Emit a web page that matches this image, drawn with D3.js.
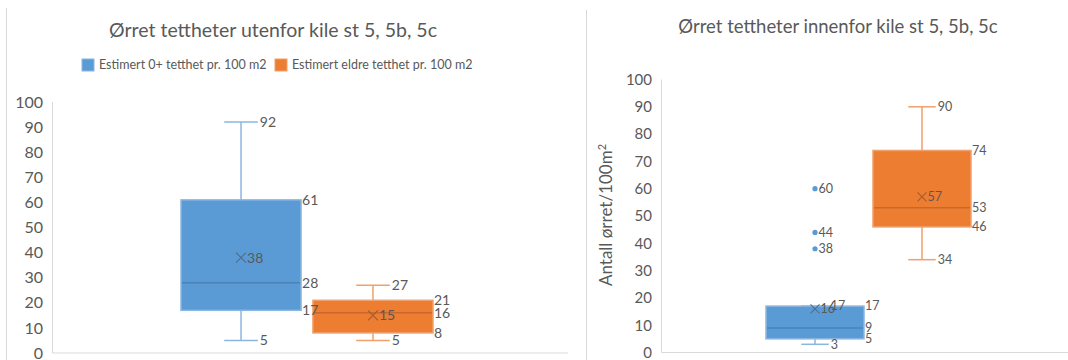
<!DOCTYPE html>
<html>
<head>
<meta charset="utf-8">
<script src="https://cdn.jsdelivr.net/npm/d3@7"></script>
<style>
  html, body { margin: 0; padding: 0; background: #fff; }
  svg { display: block; font-family: Lato, "Open Sans", sans-serif; }
</style>
</head>
<body>
<svg id="chart" width="1068" height="360"></svg>
<script>
// Series shown in both panels
const seriesNames = ["Estimert 0+ tetthet pr. 100 m2", "Estimert eldre tetthet pr. 100 m2"];
const seriesKeys = ["0+", "eldre"];
const yTicks = [0, 10, 20, 30, 40, 50, 60, 70, 80, 90, 100];

// Utenfor kile: five-number summaries and means per series
const outMin    = [5, 5];
const outQ1     = [17, 8];
const outMedian = [28, 16];
const outQ3     = [61, 21];
const outMax    = [92, 27];
const outMean   = [38, 15];
const outOutliers = [[], []];

// Innenfor kile
const inMin    = [3, 34];
const inQ1     = [5, 46];
const inMedian = [9, 53];
const inQ3     = [17, 74];
const inMax    = [17, 90];
const inMean   = [16, 57];
const inOutliers = [[38, 44, 60], []];

const fills   = ["#5b9bd5", "#ed7d31"];
const edges   = ["#8ab6e0", "#f0a06b"];
const medians = ["#4a82b8", "#c9682a"];
const marks   = ["#4d6e8f", "#a85a2a"];
const textCol = "#595959";
const gridCol = "#d9d9d9";

const svg = d3.select("#chart");

function panel(cfg) {
  const g = svg.append("g");
  const y = d3.scaleLinear().domain([0, 100]).range([cfg.y0, cfg.y1]);
  const x = d3.scaleBand().domain(seriesKeys).range(cfg.boxRange).paddingInner(cfg.pad);
  const bw = x.bandwidth();
  const capW = bw * 0.28;

  // frame edge of the chart area
  g.append("line").attr("x1", cfg.frameX).attr("x2", cfg.frameX)
    .attr("y1", cfg.frameTop).attr("y2", 360)
    .attr("stroke", gridCol).attr("stroke-width", 1);

  // axes lines
  g.append("line").attr("x1", cfg.axisX).attr("x2", cfg.axisX)
    .attr("y1", y(100)).attr("y2", y(0)).attr("stroke", gridCol);
  g.append("line").attr("x1", cfg.axisX).attr("x2", cfg.plotRight)
    .attr("y1", y(0)).attr("y2", y(0)).attr("stroke", gridCol);

  // tick labels
  const ax = g.append("g").attr("transform", `translate(${cfg.tickX},0)`)
    .call(d3.axisLeft(y).tickValues(yTicks).tickSize(0).tickPadding(0));
  ax.select(".domain").remove();
  ax.selectAll("text").attr("fill", textCol).style("font-size", cfg.tickFont + "px")
    .style("font-family", "Lato, 'Open Sans', sans-serif");

  // title
  g.append("text").attr("x", cfg.titleX).attr("y", cfg.titleY)
    .attr("text-anchor", "middle").attr("fill", textCol)
    .style("font-size", cfg.titleFont + "px").text(cfg.title);

  const marksLayer = g.append("g");
  const labelLayer = g.append("g");

  const d = cfg.data;
  seriesKeys.forEach((k, i) => {
    const left = x(k), right = x(k) + bw, cx = x(k) + bw / 2;
    const sg = marksLayer.append("g");
    // whiskers
    sg.append("line").attr("x1", cx).attr("x2", cx)
      .attr("y1", y(d.max[i])).attr("y2", y(d.q3[i]))
      .attr("stroke", edges[i]).attr("stroke-width", 1.5);
    sg.append("line").attr("x1", cx).attr("x2", cx)
      .attr("y1", y(d.q1[i])).attr("y2", y(d.min[i]))
      .attr("stroke", edges[i]).attr("stroke-width", 1.5);
    [d.max[i], d.min[i]].forEach(v => {
      sg.append("line").attr("x1", cx - capW / 2).attr("x2", cx + capW / 2)
        .attr("y1", y(v)).attr("y2", y(v))
        .attr("stroke", edges[i]).attr("stroke-width", 1.5);
    });
    // box
    sg.append("rect").attr("x", left).attr("y", y(d.q3[i]))
      .attr("width", bw).attr("height", y(d.q1[i]) - y(d.q3[i]))
      .attr("fill", fills[i]).attr("stroke", edges[i]).attr("stroke-width", 1.5);
    sg.append("line").attr("x1", left + 1).attr("x2", right - 1)
      .attr("y1", y(d.median[i])).attr("y2", y(d.median[i]))
      .attr("stroke", medians[i]).attr("stroke-width", 1.5);
    // mean marker
    const m = cfg.markSize / 2, my = y(d.mean[i]);
    sg.append("path")
      .attr("d", `M${cx - m},${my - m}L${cx + m},${my + m}M${cx - m},${my + m}L${cx + m},${my - m}`)
      .attr("stroke", marks[i]).attr("stroke-width", 1.1).attr("fill", "none");
    // outliers
    d.outliers[i].forEach(v => {
      sg.append("circle").attr("cx", cx).attr("cy", y(v)).attr("r", cfg.dotR)
        .attr("fill", fills[i]);
      labelLayer.append("text").attr("x", cx + cfg.dotR + 1).attr("y", y(v))
        .attr("dy", "0.35em").attr("fill", textCol)
        .style("font-size", cfg.labelFont + "px").text(v);
    });
    // value labels, drawn above every box
    const labels = [
      [cx + capW / 2 + 2, d.max[i]],
      [cx + capW / 2 + 2, d.min[i]],
      [right + 1, d.q3[i]],
      [right + 1, d.median[i]],
      [right + 1, d.q1[i]],
      [cx + m + 1, d.mean[i]]
    ];
    labels.forEach(([lx, v]) => {
      labelLayer.append("text").attr("x", lx).attr("y", y(v)).attr("dy", "0.35em")
        .attr("fill", textCol).style("font-size", cfg.labelFont + "px").text(v);
    });
  });
  return g;
}

panel({
  title: "Ørret tettheter utenfor kile st 5, 5b, 5c",
  titleX: 273, titleY: 37, titleFont: 19.5,
  y0: 353, y1: 102, boxRange: [181, 433], pad: 0.09,
  frameX: 6.5, frameTop: 8, axisX: 52.5, plotRight: 568, tickX: 43,
  tickFont: 16, labelFont: 14, markSize: 10, dotR: 3,
  data: { min: outMin, q1: outQ1, median: outMedian, q3: outQ3, max: outMax, mean: outMean, outliers: outOutliers }
});

panel({
  title: "Ørret tettheter innenfor kile st 5, 5b, 5c",
  titleX: 838, titleY: 33, titleFont: 18.5,
  y0: 352.5, y1: 79.5, boxRange: [766, 971], pad: 0.084,
  frameX: 586.5, frameTop: 10, axisX: 661.5, plotRight: 1068, tickX: 652,
  tickFont: 15, labelFont: 12.5, markSize: 9, dotR: 2.6,
  data: { min: inMin, q1: inQ1, median: inMedian, q3: inQ3, max: inMax, mean: inMean, outliers: inOutliers }
});

// legend for the left panel
const legend = svg.append("g");
const legendX = [82, 275];
seriesNames.forEach((name, i) => {
  legend.append("rect").attr("x", legendX[i]).attr("y", 59).attr("width", 12).attr("height", 12)
    .attr("fill", fills[i]).attr("stroke", edges[i]).attr("stroke-width", 1);
  legend.append("text").attr("x", legendX[i] + 17).attr("y", 65).attr("dy", "0.35em")
    .attr("fill", textCol).style("font-size", "12.5px").text(name);
});

// y-axis title of the right panel
const yt = svg.append("text")
  .attr("transform", "translate(612,215) rotate(-90)")
  .attr("text-anchor", "middle").attr("fill", textCol)
  .style("font-size", "17px");
yt.append("tspan").text("Antall ørret/100m");
yt.append("tspan").attr("baseline-shift", "super").style("font-size", "11px").text("2");
</script>
</body>
</html>
